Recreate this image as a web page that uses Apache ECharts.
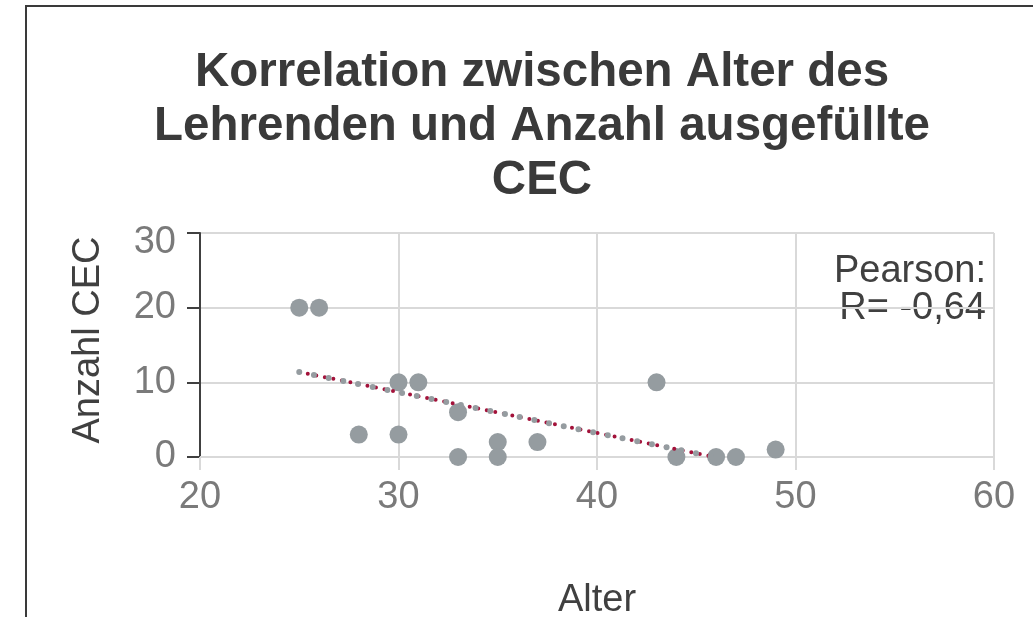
<!DOCTYPE html>
<html>
<head>
<meta charset="utf-8">
<script src="https://cdn.jsdelivr.net/npm/echarts@6/dist/echarts.min.js"></script>
<style>
  html, body {
    margin: 0;
    padding: 0;
    background: #ffffff;
    overflow: hidden;
  }

  .frame {
    position: absolute;
    left: 25px;
    top: 5px;
    width: 1100px;
    height: 700px;
    border-left: 2px solid #3a3a3a;
    border-top: 2px solid #3a3a3a;
  }

  #chart {
    position: absolute;
    left: 0;
    top: 0;
    width: 1033px;
    height: 617px;
  }
</style>
</head>
<body>
<div class="frame"></div>
<div id="chart"></div>

<script>
// Alter / Anzahl CEC pro Lehrendem
const alter = [25, 26, 28, 30, 30, 31, 33, 33, 35, 35, 37, 43, 44, 46, 47, 49]
const anzahlCec = [20, 20, 3, 3, 10, 10, 6, 0, 2, 0, 2, 10, 0, 0, 0, 1]

// Trendlinie (Endpunkte)
const trendX = [25, 45.9]
const trendY = [11.4, 0]

const xTicks = [20, 30, 40, 50, 60]
const yTicks = [0, 10, 20, 30]

const titleText = 'Korrelation zwischen Alter des\nLehrenden und Anzahl ausgefüllte\nCEC'
const pearsonText = 'Pearson:\nR= -0,64'

const font = '"Liberation Sans", Arial, sans-serif'

const chart = echarts.init(document.getElementById('chart'))

const points = alter.map((x, i) => [x, anzahlCec[i]])
const trend = trendX.map((x, i) => [x, trendY[i]])

chart.setOption({
  animation: false,
  textStyle: {
    fontFamily: font
  },
  title: {
    text: titleText,
    left: 537,
    top: 41,
    textAlign: 'center',
    textStyle: {
      fontFamily: font,
      fontSize: 47.5,
      fontWeight: 'bold',
      lineHeight: 54,
      color: '#3a3a3a'
    }
  },
  grid: {
    left: 200,
    top: 233,
    width: 794,
    height: 224,
    outerBoundsMode: 'none'
  },
  xAxis: {
    type: 'value',
    min: xTicks[0],
    max: xTicks[xTicks.length - 1],
    interval: 10,
    name: 'Alter',
    nameLocation: 'middle',
    nameGap: 125,
    nameTextStyle: {
      fontFamily: font,
      fontSize: 38,
      color: '#404040'
    },
    axisLine: {
      lineStyle: { color: '#d9d9d9', width: 2 }
    },
    axisTick: {
      show: true,
      length: 13,
      lineStyle: { color: '#d9d9d9', width: 2 }
    },
    axisLabel: {
      fontFamily: font,
      fontSize: 38,
      color: '#7a7a7a',
      margin: 22
    },
    splitLine: {
      show: true,
      lineStyle: { color: '#d9d9d9', width: 2 }
    }
  },
  yAxis: {
    type: 'value',
    min: yTicks[0],
    max: yTicks[yTicks.length - 1],
    interval: 10,
    name: 'Anzahl CEC',
    nameLocation: 'middle',
    nameGap: 92,
    nameRotate: 90,
    nameTextStyle: {
      fontFamily: font,
      fontSize: 38,
      color: '#404040',
      padding: [0, 0, 0, 10]
    },
    axisLine: {
      show: true,
      lineStyle: { color: '#404040', width: 2 }
    },
    axisTick: {
      show: true,
      length: 13,
      lineStyle: { color: '#404040', width: 2 }
    },
    axisLabel: {
      fontFamily: font,
      fontSize: 38,
      color: '#7a7a7a',
      margin: 24,
      formatter: value => (value === yTicks[yTicks.length - 1] ? '{top|' + value + '}' : String(value)),
      rich: {
        top: {
          fontFamily: font,
          fontSize: 38,
          color: '#7a7a7a',
          padding: [20, 0, 0, 0]
        }
      }
    },
    splitLine: {
      show: true,
      lineStyle: { color: '#d9d9d9', width: 2 }
    }
  },
  graphic: [
    {
      type: 'text',
      right: 1033 - 986,
      top: 253,
      style: {
        text: pearsonText,
        font: '38px "Liberation Sans", Arial, sans-serif',
        lineHeight: 37,
        fill: '#404040',
        textAlign: 'right'
      }
    }
  ],
  series: [
    {
      name: 'Anzahl CEC',
      type: 'scatter',
      symbolSize: 18,
      itemStyle: { color: '#959ca0', opacity: 1 },
      data: points,
      z: 2
    },
    {
      name: 'Trend',
      type: 'line',
      symbol: 'none',
      silent: true,
      lineStyle: {
        color: '#a3123a',
        width: 4,
        type: [0, 8.7],
        cap: 'round'
      },
      data: trend,
      z: 3
    },
    {
      name: 'Trend 2',
      type: 'line',
      symbol: 'none',
      silent: true,
      lineStyle: {
        color: '#959ca0',
        width: 6,
        type: [0, 15],
        cap: 'round'
      },
      data: trend,
      z: 4
    }
  ]
})

window.addEventListener('resize', () => chart.resize())
</script>
</body>
</html>
